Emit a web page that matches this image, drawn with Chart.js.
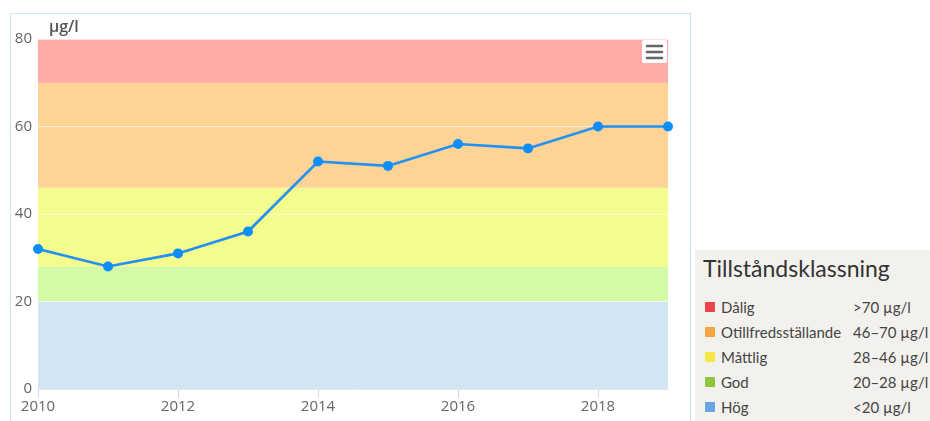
<!DOCTYPE html>
<html>
<head>
<meta charset="utf-8">
<script src="https://cdn.jsdelivr.net/npm/chart.js@4/dist/chart.umd.min.js"></script>
<style>
  body { margin: 0; background: #fff; width: 930px; height: 421px; overflow: hidden; position: relative; font-family: "Open Sans", sans-serif; }
  #frame { position: absolute; left: 10px; top: 13px; width: 679px; height: 420px; border: 1px solid #cde4f8; }
  #canvas { position: absolute; left: 0; top: 0; }
  #legend { position: absolute; left: 695px; top: 250px; width: 235px; height: 171px; background: #f3f1ee; color: #444; }
  #legend h3 { margin: 0; position: absolute; left: 8px; top: 4px; font: 400 23px Lato, sans-serif; color: #333; }
  .row { position: absolute; left: 10px; font: 15px Lato, sans-serif; height: 18px; line-height: 18px; }
  .sw { position: absolute; left: 0; top: 4px; width: 10px; height: 10px; border-radius: 1px; }
  .name { position: absolute; left: 16px; white-space: nowrap; }
  .range { position: absolute; left: 148px; white-space: nowrap; }
</style>
</head>
<body>
<div id="frame"></div>
<canvas id="canvas" width="930" height="421"></canvas>
<div id="legend"><h3>Tillståndsklassning</h3></div>
<script>
'use strict';

const years = ['2010', '2011', '2012', '2013', '2014', '2015', '2016', '2017', '2018', '2019'];
const values = [32, 28, 31, 36, 52, 51, 56, 55, 60, 60];

// class bands, low -> high
const bandLimits = [0, 20, 28, 46, 70, 80];
const bandColors = ['#d2e5f3', '#d3fba6', '#f4fc8e', '#fed396', '#ffaba8'];

const classNames = ['Dålig', 'Otillfredsställande', 'Måttlig', 'God', 'Hög'];
const classRanges = ['>70 µg/l', '46–70 µg/l', '28–46 µg/l', '20–28 µg/l', '<20 µg/l'];
const classColors = ['#e8434a', '#f4a540', '#f7e84a', '#8cc63f', '#6aa5e3'];

// legend box (html)
const legend = document.getElementById('legend');
classNames.forEach((name, i) => {
  const row = document.createElement('div');
  row.className = 'row';
  row.style.top = (48 + i * 25) + 'px';
  row.innerHTML = '<span class="sw" style="background:' + classColors[i] + '"></span>' +
    '<span class="name">' + name + '</span><span class="range">' + classRanges[i] + '</span>';
  legend.appendChild(row);
});

const bands = {
  id: 'bands',
  beforeDraw(chart) {
    const { ctx, chartArea: a, scales: { y } } = chart;
    ctx.save();
    for (let i = 0; i < bandColors.length; i++) {
      const top = y.getPixelForValue(bandLimits[i + 1]);
      const bot = y.getPixelForValue(bandLimits[i]);
      ctx.fillStyle = bandColors[i];
      ctx.fillRect(a.left, top, a.right - a.left, bot - top);
    }
    ctx.restore();
  },
  afterDraw(chart) {
    const { ctx, chartArea: a } = chart;
    ctx.save();
    // unit label
    ctx.fillStyle = '#555';
    ctx.font = '600 16px "Open Sans", sans-serif';
    ctx.textBaseline = 'alphabetic';
    ctx.fillText('µg/l', a.left + 11, a.top - 7);
    // menu button
    const bx = a.right - 26, by = a.top + 1;
    ctx.fillStyle = '#fff';
    ctx.beginPath();
    ctx.roundRect(bx, by, 25, 23, 2);
    ctx.fill();
    ctx.strokeStyle = '#666';
    ctx.lineWidth = 2.5;
    ctx.lineCap = 'round';
    for (let k = 0; k < 3; k++) {
      ctx.beginPath();
      ctx.moveTo(bx + 5, by + 6 + k * 6);
      ctx.lineTo(bx + 20, by + 6 + k * 6);
      ctx.stroke();
    }
    ctx.restore();
  }
};

new Chart(document.getElementById('canvas').getContext('2d'), {
  type: 'line',
  data: {
    labels: years,
    datasets: [{
      data: values,
      borderColor: '#2290f2',
      backgroundColor: '#0e8efc',
      borderWidth: 2.6,
      pointRadius: 5,
      pointBorderWidth: 0,
      tension: 0,
    }],
  },
  options: {
    responsive: false,
    animation: false,
    layout: { padding: { left: 0, right: 262, top: 39, bottom: 0 } },
    scales: {
      x: {
        offset: false,
        afterFit(scale) { scale.height = 32; },
        grid: {
          drawOnChartArea: false,
          tickLength: 9,
          color: (c) => (c.index % 2 === 0 ? '#ccd6eb' : 'rgba(0,0,0,0)'),
        },
        border: { display: true, color: '#dfe6f0' },
        ticks: {
          autoSkip: false,
          maxRotation: 0,
          padding: 0,
          color: '#666',
          font: { family: '"Open Sans", sans-serif', size: 15 },
          callback: (v, i) => (i % 2 === 0 ? years[i] : ''),
        },
      },
      y: {
        min: 0,
        max: 80,
        afterFit(scale) { scale.width = 38; },
        grid: { drawTicks: false, color: 'rgba(255,255,255,0.6)' },
        border: { display: false },
        ticks: {
          stepSize: 20,
          padding: 6,
          color: '#666',
          font: { family: '"Open Sans", sans-serif', size: 15 },
        },
      },
    },
    plugins: {
      legend: { display: false },
      tooltip: { enabled: false },
    },
  },
  plugins: [bands],
});
</script>
</body>
</html>
